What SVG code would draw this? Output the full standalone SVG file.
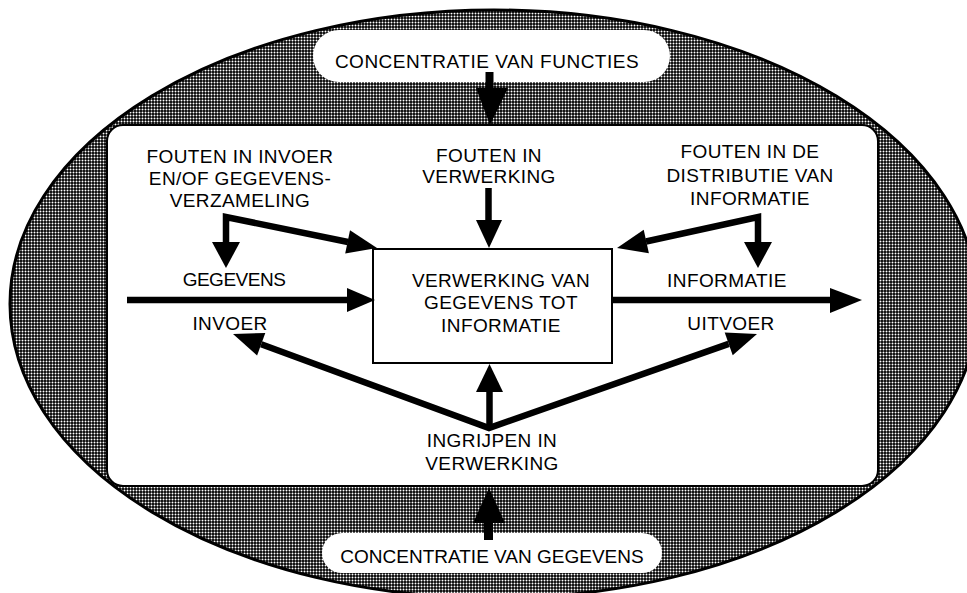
<svg xmlns="http://www.w3.org/2000/svg" width="967" height="593" viewBox="0 0 967 593">
<defs>
<pattern id="dots" x="0" y="0" width="3" height="3" patternUnits="userSpaceOnUse">
<rect x="0" y="0" width="3" height="3" fill="#000"/>
<circle cx="1.5" cy="1.5" r="1" fill="#fff"/>
</pattern>
<style>
text{font-family:"Liberation Sans",Arial,sans-serif;font-size:19px;fill:#000;text-anchor:middle;letter-spacing:0.4px}
.ln{stroke:#000;stroke-width:6.5;fill:none;stroke-linejoin:miter}
.hd{fill:#000;stroke:none}
.pill{fill:#fff;stroke:none}
.cmp{letter-spacing:-0.5px}
</style>
</defs>
<rect x="0" y="0" width="967" height="593" fill="#fff"/>
<g id="outer">
<ellipse cx="494" cy="304" rx="484" ry="294" fill="url(#dots)" stroke="#000" stroke-width="3"/>
</g>
<g id="system">
<rect x="107" y="125" width="771" height="361" rx="16" fill="#fff" stroke="#000" stroke-width="2"/>
</g>
<g id="concentratie-functies">
<rect class="pill" x="313" y="30" width="357" height="52" rx="26"/>
<text x="487" y="68" style="letter-spacing:0.5px">CONCENTRATIE VAN FUNCTIES</text>
</g>
<g id="concentratie-gegevens">
<rect class="pill" x="322" y="533" width="340" height="40" rx="20"/>
<text x="492" y="563" style="letter-spacing:0px">CONCENTRATIE VAN GEGEVENS</text>
</g>
<g id="verwerking">
<rect x="373" y="249" width="239" height="114" fill="#fff" stroke="#000" stroke-width="2"/>
<text x="501" y="287">VERWERKING VAN</text>
<text x="501" y="309">GEGEVENS TOT</text>
<text x="501" y="332">INFORMATIE</text>
</g>
<g id="fouten-invoer">
<text x="240" y="163">FOUTEN IN INVOER</text>
<text x="240" y="185">EN/OF GEGEVENS-</text>
<text x="240" y="207">VERZAMELING</text>
</g>
<g id="fouten-verwerking">
<text x="489" y="162">FOUTEN IN</text>
<text x="489" y="183">VERWERKING</text>
</g>
<g id="fouten-distributie">
<text x="750" y="158">FOUTEN IN DE</text>
<text x="750" y="182">DISTRIBUTIE VAN</text>
<text x="750" y="205">INFORMATIE</text>
</g>
<g id="gegevens-invoer">
<text x="234" y="286" class="cmp">GEGEVENS</text>
<text x="230" y="330">INVOER</text>
</g>
<g id="informatie-uitvoer">
<text x="727" y="287">INFORMATIE</text>
<text x="731" y="330">UITVOER</text>
</g>
<g id="ingrijpen">
<text x="492" y="447">INGRIJPEN IN</text>
<text x="492" y="470">VERWERKING</text>
</g>
<g id="connectors">
<line class="ln" x1="489.5" y1="72" x2="489.5" y2="92" style="stroke-width:8"/>
<polygon class="hd" points="476,88 508,88 490,125"/>
<line class="ln" x1="488.5" y1="520" x2="488.5" y2="540" style="stroke-width:9"/>
<polygon class="hd" points="473,523 505,523 489,488"/>
<polyline class="ln" points="226,244 226,217 348,242"/>
<polygon class="hd" points="212,242 240,242 226,268"/>
<polygon class="hd" points="345.2,253.6 350,230.2 377,248"/>
<polyline class="ln" points="758,244 758,217 646,241.5"/>
<polygon class="hd" points="744,242 772,242 758,268"/>
<polygon class="hd" points="648.9,253.2 643.7,229.8 617,248"/>
<line class="ln" x1="127" y1="300" x2="350" y2="300"/>
<polygon class="hd" points="347,288 347,312 375,300"/>
<line class="ln" x1="612" y1="300" x2="834" y2="300"/>
<polygon class="hd" points="830,288 830,313 862,300"/>
<line class="ln" x1="488.5" y1="188" x2="488.5" y2="222"/>
<polygon class="hd" points="476,220 502,220 489,248"/>
<polyline class="ln" points="261.2,344.3 489,428 728.7,343.9"/>
<line class="ln" x1="489.5" y1="428" x2="489.5" y2="390"/>
<polygon class="hd" points="476,392 503,392 489.5,364"/>
<polygon class="hd" points="265.3,333 257.1,355.6 233,334"/>
<polygon class="hd" points="732.7,355.2 724.7,332.6 757,334"/>
</g>
</svg>
